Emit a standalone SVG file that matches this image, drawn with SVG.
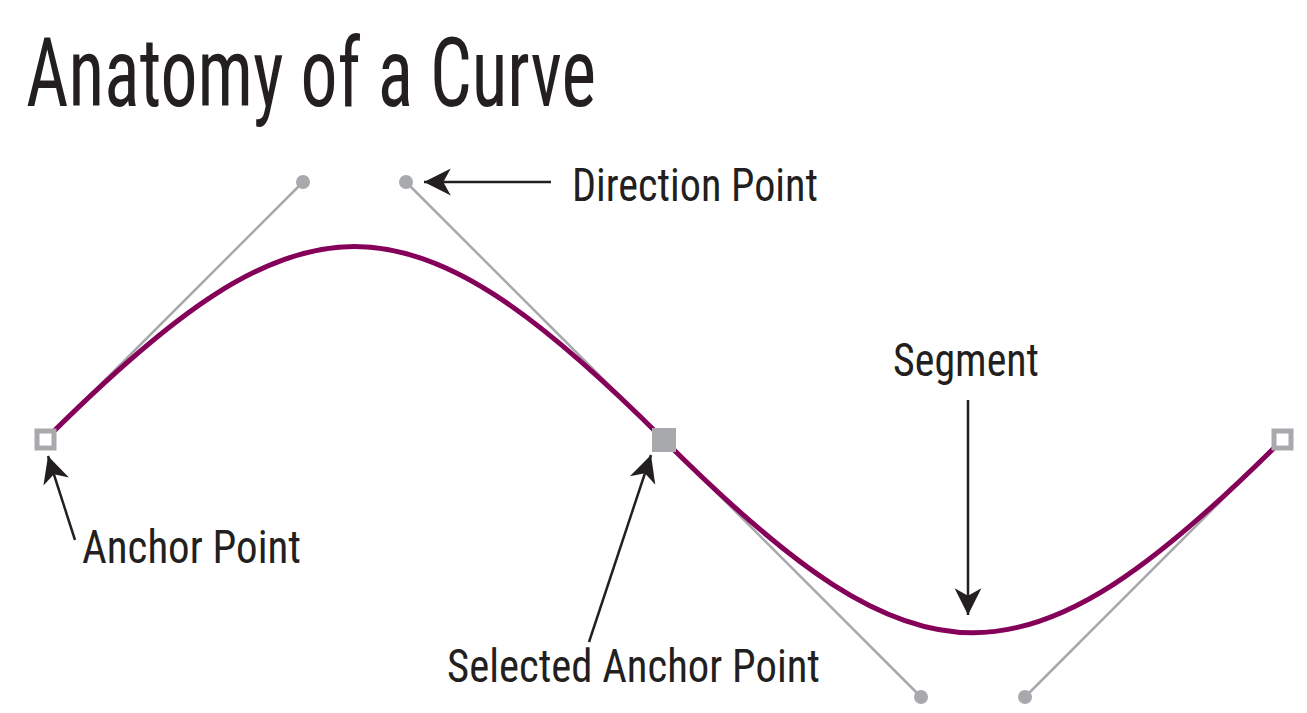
<svg xmlns="http://www.w3.org/2000/svg" width="1307" height="713" viewBox="0 0 1307 713">
<style>
text{font-family:"Liberation Sans Narrow","Roboto Condensed","DejaVu Sans Condensed","Liberation Sans",sans-serif;fill:#231f20}
.lbl{font-size:46px}
.handle{stroke:#a7a9ac;stroke-width:2.5;fill:none}
.dot{fill:#a7a9ac}
.curve{stroke:#850058;stroke-width:5;fill:none}
.anchor{fill:#fff;stroke:#a7a9ac;stroke-width:5}
.sel{fill:#a7a9ac}
.arrow{stroke:#231f20;stroke-width:2.5;fill:none;marker-end:url(#ah)}
</style>
<defs>
<marker id="ah" markerUnits="userSpaceOnUse" markerWidth="30" markerHeight="30" viewBox="-26 -14 28 28" refX="0" refY="0" orient="auto">
<path d="M0,0 L-25,-12.5 L-18,0 L-25,12.5 Z" fill="#231f20"/>
</marker>
</defs>
<rect width="1307" height="713" fill="#fff"/>
<text id="title" x="26" y="106" font-size="96" textLength="570" lengthAdjust="spacingAndGlyphs">Anatomy of a Curve</text>
<g id="handles">
<line class="handle" x1="45" y1="440" x2="303" y2="182"/>
<line class="handle" x1="664" y1="440" x2="406" y2="182"/>
<line class="handle" x1="664" y1="440" x2="921" y2="697"/>
<line class="handle" x1="1282" y1="440" x2="1025" y2="697"/>
<circle class="dot" cx="303" cy="182" r="7"/>
<circle class="dot" cx="406" cy="182" r="7"/>
<circle class="dot" cx="921" cy="697" r="7"/>
<circle class="dot" cx="1025" cy="697" r="7"/>
</g>
<g id="curve">
<path class="curve" d="M45,440 C303,182 406,182 664,440 C921,697 1025,697 1282,440"/>
</g>
<g id="anchor-left"><rect class="anchor" x="37" y="431" width="17" height="17"/></g>
<g id="anchor-selected"><rect class="sel" x="652" y="428" width="24" height="24"/></g>
<g id="anchor-right"><rect class="anchor" x="1274" y="431" width="17" height="17"/></g>
<g id="connectors">
<line class="arrow" x1="551" y1="182" x2="424" y2="182"/>
<line class="arrow" x1="75" y1="540" x2="48" y2="456"/>
<line class="arrow" x1="589" y1="642" x2="651" y2="455"/>
<line class="arrow" x1="968" y1="400" x2="968" y2="615"/>
</g>
<g id="label-direction"><text class="lbl" x="572" y="201" textLength="246" lengthAdjust="spacingAndGlyphs">Direction Point</text></g>
<g id="label-anchor"><text class="lbl" x="82" y="563" textLength="219" lengthAdjust="spacingAndGlyphs">Anchor Point</text></g>
<g id="label-selected"><text class="lbl" x="447" y="682" textLength="373" lengthAdjust="spacingAndGlyphs">Selected Anchor Point</text></g>
<g id="label-segment"><text class="lbl" x="893" y="376" textLength="146" lengthAdjust="spacingAndGlyphs">Segment</text></g>
</svg>
